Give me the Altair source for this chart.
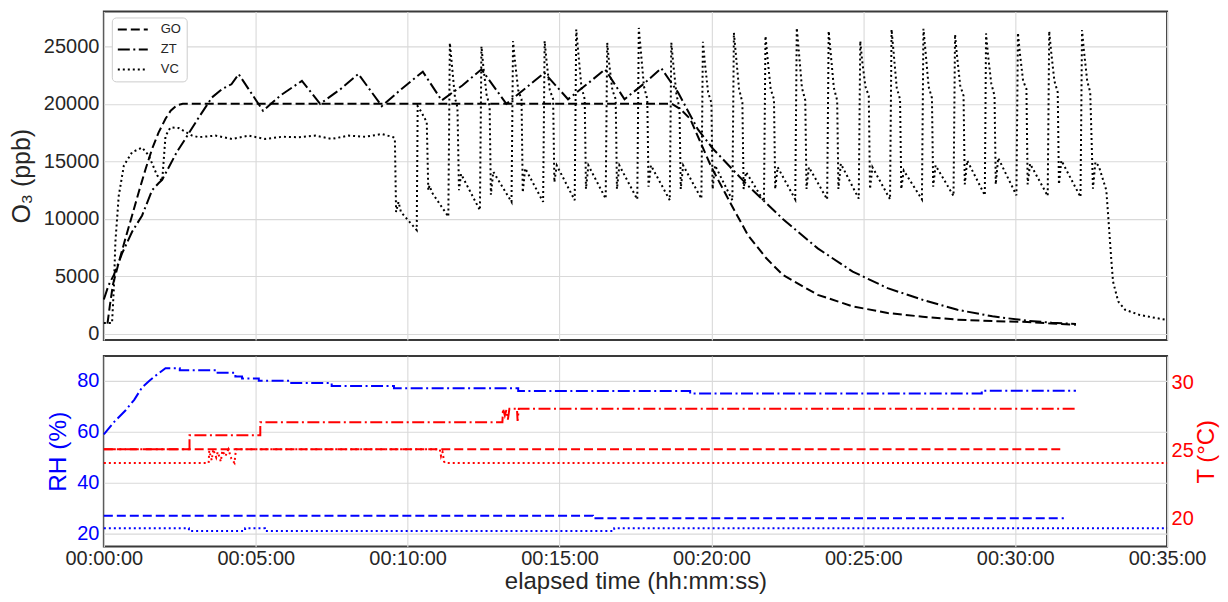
import altair as alt
import pandas as pd

# ---------------- top panel: O3 (ppb) vs elapsed minutes ----------------
GO_t = [0.12, 0.20, 0.30, 0.50, 0.71, 0.93, 1.15, 1.37, 1.59, 1.80, 2.03, 2.20, 2.41, 2.60,
        18.70, 19.00, 19.30, 19.60, 20.00, 20.30, 20.60, 21.20, 21.80, 22.35, 23.50, 24.65,
        25.80, 26.95, 28.10, 29.25, 30.40, 31.20, 32.00]
GO_v = [900, 2500, 4300, 6300, 8300, 10300, 12340, 14300, 16100, 17500, 18700, 19400, 19900, 20000,
        20000, 19500, 18700, 16900, 14500, 13000, 11500, 8600, 6600, 5130, 3400, 2400,
        1820, 1500, 1240, 1120, 1040, 900, 800]

ZT_t = [0.00, 0.15, 0.33, 0.60, 0.93, 1.26, 1.59, 1.80, 1.92, 2.10, 2.40, 2.68, 3.12, 3.56, 3.90,
        4.20, 4.44, 5.24, 5.80, 6.52, 7.12, 7.80, 8.38, 9.15, 9.80, 10.50, 11.12, 11.80, 12.43,
        13.25, 13.90, 14.50, 15.28, 15.90, 16.50, 17.14, 17.80, 18.35, 18.90, 19.55, 20.05,
        21.20, 22.35, 23.50, 24.65, 25.80, 26.95, 28.10, 29.25, 30.40, 31.20, 32.00]
ZT_v = [3000, 4200, 5130, 7000, 8880, 10300, 12500, 13100, 13400, 14300, 15800, 16950, 18800, 20560, 21300,
        21700, 22580, 19400, 20700, 22000, 20000, 21300, 22600, 19800, 21300, 22800, 20300, 21600, 23000,
        20000, 21400, 22700, 20400, 21700, 23000, 20400, 21800, 23100, 21000, 17800, 16100,
        12900, 10000, 7440, 5420, 3980, 2970, 2100, 1530, 1150, 980, 860]

VC_t = [0.00, 0.27, 0.33, 0.38, 0.49, 0.66, 0.93, 1.26, 1.48, 1.75, 1.92, 2.03, 2.19, 2.46, 2.90,
        3.12, 3.67, 4.22, 4.77, 5.31, 5.86, 6.41, 6.96, 7.50, 8.05, 8.60, 9.15, 9.53, 9.58,
        9.62, 9.70, 9.78, 10.30, 10.33, 10.45, 10.63, 10.68, 10.72, 10.80, 11.34,
        11.39, 11.45, 11.56, 11.64, 11.69, 11.76, 12.38,
        12.43, 12.49, 12.60, 12.70, 12.74, 12.82, 13.42,
        13.47, 13.53, 13.64, 13.75, 13.79, 13.87, 14.46,
        14.51, 14.57, 14.68, 14.79, 14.83, 14.91, 15.50,
        15.55, 15.61, 15.72, 15.83, 15.87, 15.95, 16.52,
        16.57, 16.63, 16.74, 16.85, 16.89, 16.97, 17.56,
        17.61, 17.67, 17.78, 17.89, 17.93, 18.01, 18.63,
        18.68, 18.74, 18.85, 18.95, 18.99, 19.07, 19.67,
        19.72, 19.78, 19.89, 20.00, 20.04, 20.12, 20.69,
        20.74, 20.80, 20.91, 21.02, 21.06, 21.14, 21.73,
        21.78, 21.84, 21.95, 22.06, 22.10, 22.18, 22.76,
        22.81, 22.87, 22.98, 23.09, 23.13, 23.21, 23.81,
        23.86, 23.92, 24.03, 24.14, 24.18, 24.26, 24.85,
        24.90, 24.96, 25.07, 25.18, 25.22, 25.30, 25.88,
        25.93, 25.99, 26.10, 26.21, 26.25, 26.33, 26.93,
        26.98, 27.04, 27.15, 27.26, 27.30, 27.38, 27.97,
        28.02, 28.08, 28.19, 28.30, 28.34, 28.42, 29.00,
        29.04, 29.10, 29.21, 29.32, 29.36, 29.44, 30.04,
        30.09, 30.15, 30.26, 30.37, 30.41, 30.49, 31.07,
        31.12, 31.18, 31.29, 31.40, 31.44, 31.52, 32.15,
        32.20, 32.26, 32.37, 32.47, 32.56, 32.64, 32.75, 33.00,
        33.06, 33.16, 33.22, 33.39, 33.62, 34.08, 34.50, 34.95]
VC_v = [950, 950, 4000, 8000, 12000, 14650, 15800, 16200, 15500, 13800, 13300, 17200, 17950, 17900, 17250,
        17100, 17240, 16950, 17240, 16950, 17140, 17100, 17240, 16950, 17240, 17140, 17380, 17100, 17000,
        10600, 11480, 10600, 9020, 19800, 19300, 18400, 12500, 12900, 12300, 10200,
        25300, 23600, 20500, 19700, 12500, 13900, 10750,
        25000, 23300, 20800, 19800, 12100, 14100, 11480,
        25460, 23800, 21200, 20400, 12300, 14400, 11480,
        25460, 23800, 21200, 20400, 13200, 14650, 11620,
        26470, 24700, 21500, 20400, 12600, 14650, 11760,
        25320, 23600, 21200, 20400, 12600, 14650, 11700,
        26600, 24800, 21500, 20400, 12800, 14650, 11620,
        25320, 23600, 20800, 19600, 12600, 14650, 11760,
        25400, 23700, 21000, 20100, 12600, 14650, 11620,
        26180, 24450, 21300, 20100, 12600, 14070, 11530,
        25890, 24200, 21300, 20400, 12600, 14500, 11700,
        26600, 24800, 21400, 20300, 12600, 14500, 11700,
        26320, 24600, 21400, 20300, 12600, 14800, 11760,
        25460, 23800, 21500, 20700, 12600, 14500, 11700,
        26470, 24700, 21400, 20400, 12600, 14200, 11700,
        26530, 24800, 21500, 20500, 12800, 14650, 12000,
        26040, 24300, 21600, 20700, 13000, 15080, 12050,
        26120, 24400, 21800, 20700, 13000, 15300, 12050,
        26180, 24500, 22000, 21300, 13000, 14800, 12000,
        26320, 24600, 22000, 21000, 13000, 15080, 11900,
        26410, 24700, 22000, 21000, 12630, 14940, 14600, 12480,
        10300, 6570, 4560, 2830, 2100, 1670, 1450, 1240]

# ---------------- bottom panel: RH (%) and T (degC) ----------------
RH_GO_t = [0.0, 16.1, 16.1, 31.6]
RH_GO_v = [27.1, 27.1, 26.1, 26.1]
RH_ZT_t = [0.0, 0.35, 0.71, 1.0, 1.26, 1.5, 1.7, 2.03, 2.5, 2.5, 3.65, 3.65, 4.33, 4.33, 4.55, 4.55,
           5.1, 5.1, 6.1, 6.1, 7.5, 7.5, 9.55, 9.55, 13.64, 13.64, 19.3, 19.3, 28.9, 28.9, 32.0]
RH_ZT_v = [59.0, 64.0, 68.3, 72.5, 77.4, 80.0, 81.9, 84.9, 84.9, 84.1, 84.1, 83.1, 83.1, 81.6, 81.6, 80.9,
           80.9, 80.0, 80.0, 79.1, 79.1, 77.9, 77.9, 77.0, 77.0, 76.0, 76.0, 75.0, 75.0, 76.1, 76.1]
RH_VC_t = [0.0, 2.8, 2.8, 4.65, 4.65, 5.3, 5.3, 16.8, 16.8, 35.0]
RH_VC_v = [22.2, 22.2, 21.2, 21.2, 22.2, 22.2, 21.2, 21.2, 22.2, 22.2]

T_GO_t = [0.0, 31.6]
T_GO_v = [25.1, 25.1]
T_ZT_t = [0.0, 2.82, 2.82, 5.15, 5.15, 13.12, 13.14, 13.2, 13.25, 13.3, 13.35, 13.6, 13.62, 13.66, 32.0]
T_ZT_v = [25.1, 25.1, 26.15, 26.15, 27.1, 27.1, 28.1, 27.6, 28.0, 27.3, 28.1, 28.1, 27.2, 28.1, 28.1]
T_VC_t = [0.0, 3.45, 3.47, 3.55, 3.6, 3.7, 3.75, 3.85, 3.9, 4.0, 4.1, 4.2, 4.3, 4.35,
          11.06, 11.1, 11.15, 11.2, 11.23, 35.0]
T_VC_v = [24.1, 24.1, 25.0, 24.3, 25.1, 24.5, 24.9, 24.2, 25.0, 24.6, 25.1, 24.4, 24.1, 25.1,
          25.1, 24.6, 24.9, 24.2, 24.1, 24.1]

SERIES = ["GO", "ZT", "VC"]
DASHES = [[9, 4], [12, 3.5, 2, 3.5], [2, 3]]
X_TICKS = [0, 5, 10, 15, 20, 25, 30, 35]
O3_TICKS = [0, 5000, 10000, 15000, 20000, 25000]
RH_TICKS = [20, 40, 60, 80]
T_TICKS = [20, 25, 30]


def frame(t, v, s):
    return pd.DataFrame({"t": t, "v": v, "s": s, "i": list(range(len(t)))})


top_df = pd.concat([frame(GO_t, GO_v, "GO"), frame(ZT_t, ZT_v, "ZT"), frame(VC_t, VC_v, "VC")])
rh_df = pd.concat([frame(RH_GO_t, RH_GO_v, "GO"), frame(RH_ZT_t, RH_ZT_v, "ZT"), frame(RH_VC_t, RH_VC_v, "VC")])
t_df = pd.concat([frame(T_GO_t, T_GO_v, "GO"), frame(T_ZT_t, T_ZT_v, "ZT"), frame(T_VC_t, T_VC_v, "VC")])

dash_scale = alt.Scale(domain=SERIES, range=DASHES)
x_scale = alt.Scale(domain=[0, 35], nice=False, zero=False)
FONT = "Liberation Sans"
TXT = "#262626"

top = alt.Chart(top_df).mark_line(color="black", strokeWidth=2).encode(
    x=alt.X("t:Q", scale=x_scale,
            axis=alt.Axis(values=X_TICKS, labels=False, ticks=False, domain=False, title=None, grid=True)),
    y=alt.Y("v:Q", scale=alt.Scale(domain=[-520, 28030], nice=False, zero=False),
            axis=alt.Axis(values=O3_TICKS, format="d", title="O₃ (ppb)", titleFontSize=25, titlePadding=9,
                          labelPadding=5, grid=True)),
    strokeDash=alt.StrokeDash("s:N", scale=dash_scale, sort=SERIES,
                              legend=alt.Legend(title=None, orient="none", legendX=8, legendY=6,
                                                symbolType="stroke", symbolSize=900, symbolStrokeWidth=2,
                                                symbolStrokeColor="black", labelFont=FONT, labelFontSize=13,
                                                labelColor=TXT, labelOffset=12, clipHeight=14, rowPadding=6,
                                                padding=5, strokeColor="#cccccc", fillColor="white",
                                                cornerRadius=4)),
    order=alt.Order("i:Q"),
).properties(width=1065, height=329)

x_bottom = alt.X("t:Q", scale=x_scale,
                 axis=alt.Axis(values=X_TICKS, title="elapsed time (hh:mm:ss)", titleFontSize=24,
                               labelPadding=2, titlePadding=1, grid=True, labelFlush=False,
                               labelOverlap=False,
                               labelExpr="'00:' + (datum.value < 10 ? '0' : '') + datum.value + ':00'"))

rh = alt.Chart(rh_df).mark_line(color="#0000ff", strokeWidth=2).encode(
    x=x_bottom,
    y=alt.Y("v:Q", scale=alt.Scale(domain=[15.05, 89.7], nice=False, zero=False),
            axis=alt.Axis(values=RH_TICKS, title="RH (%)", titleFontSize=24.5, titlePadding=6,
                          labelPadding=5, labelColor="#0000ff", titleColor="#0000ff", grid=True)),
    strokeDash=alt.StrokeDash("s:N", scale=dash_scale, sort=SERIES, legend=None),
    order=alt.Order("i:Q"),
)

tc = alt.Chart(t_df).mark_line(color="#ff0000", strokeWidth=2).encode(
    x=x_bottom,
    y=alt.Y("v:Q", scale=alt.Scale(domain=[17.92, 32.0], nice=False, zero=False),
            axis=alt.Axis(values=T_TICKS, orient="right", title="T (°C)", titleFontSize=24, titlePadding=1,
                          titleAngle=270, titleBaseline="top", labelPadding=4,
                          labelColor="#ff0000", titleColor="#ff0000", grid=False)),
    strokeDash=alt.StrokeDash("s:N", scale=dash_scale, sort=SERIES, legend=None),
    order=alt.Order("i:Q"),
)

bottom = alt.layer(rh, tc).resolve_scale(y="independent").properties(width=1065, height=191)

chart = alt.vconcat(top, bottom, spacing=16).resolve_scale(strokeDash="independent").properties(
    bounds="flush",
    padding={"left": 0, "top": 2, "right": 0, "bottom": 0},
).configure_view(
    stroke="#3a3a3a", strokeWidth=2
).configure_axis(
    labelFont=FONT, titleFont=FONT, labelFontSize=20, labelColor=TXT, titleColor=TXT,
    titleFontWeight="normal", gridColor="#d9d9d9", gridWidth=1.1, domain=False, ticks=False
)

chart.save("out.html", embed_options={"renderer": "svg", "actions": False})
